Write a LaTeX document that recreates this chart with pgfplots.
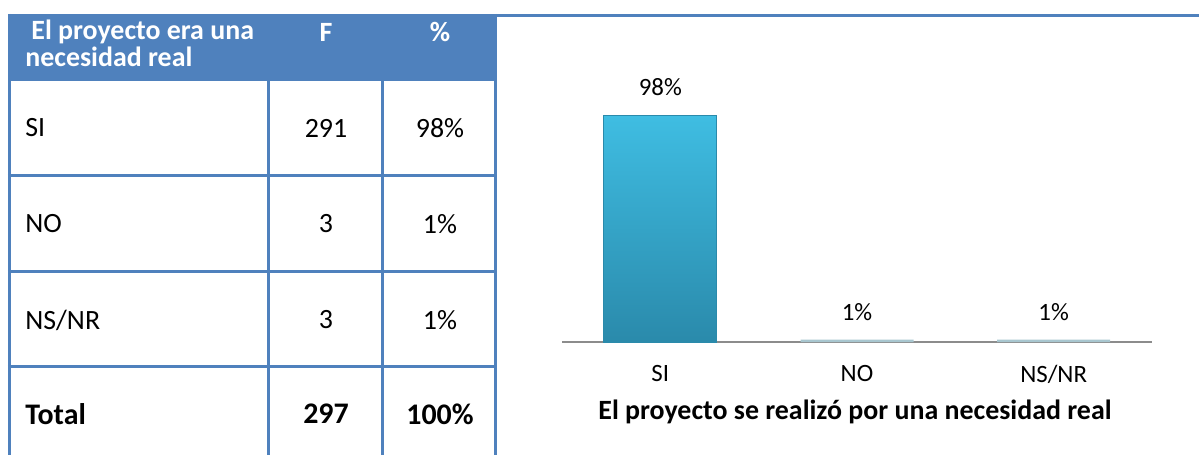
\documentclass[border=0pt]{standalone}
\usepackage{pgfplots}
\pgfplotsset{compat=1.18}
\usepackage{fontspec}
\setmainfont{Carlito}
\definecolor{hdr}{HTML}{4F81BD}
\definecolor{bartop}{HTML}{3FBDE2}
\definecolor{barbot}{HTML}{2A8AAB}
\definecolor{barpale}{HTML}{A8C6CF}
\definecolor{axgray}{HTML}{8C8C8C}
\begin{document}
\begin{tikzpicture}
\useasboundingbox (0,0) rectangle (599.5bp,-227.5bp);
\begin{scope}[x=0.5bp,y=-0.5bp]
  % header
  \fill[hdr] (8,14) rectangle (497,81);
  \fill[hdr] (8,14) rectangle (1199,17.5);
  % grid
  \begin{scope}[draw=hdr,line width=1.5bp]
    \draw (9.5,14) -- (9.5,460);
    \draw (269,80) -- (269,460);
    \draw (383,80) -- (383,460);
    \draw (496,14) -- (496,460);
    \draw (8,176) -- (497,176);
    \draw (8,272) -- (497,272);
    \draw (8,367) -- (497,367);
  \end{scope}
  % header text
  \begin{scope}[every node/.style={text=white,inner sep=0,font=\fontsize{14}{16}\bfseries}]
    \node[anchor=west] at (31,32) {El proyecto era una};
    \node[anchor=west] at (25,57) {necesidad real};
    \node at (326,32) {F};
    \node at (440,32) {\%};
  \end{scope}
  % rows
  \begin{scope}[every node/.style={inner sep=0,font=\fontsize{14}{16}\selectfont}]
    \node[anchor=west] at (25,128) {SI};
    \node at (326,128) {291};
    \node at (440,128) {98\%};
    \node[anchor=west] at (25,224) {NO};
    \node at (326,224) {3};
    \node at (440,224) {1\%};
    \node[anchor=west] at (25,320) {NS/NR};
    \node at (326,320) {3};
    \node at (440,320) {1\%};
  \end{scope}
  \begin{scope}[every node/.style={inner sep=0,font=\fontsize{15}{18}\bfseries}]
    \node[anchor=west] at (25,414) {Total};
    \node at (326,414) {297};
    \node at (440,414) {100\%};
  \end{scope}
  % chart title
  \node[inner sep=0,font=\fontsize{14}{17}\bfseries] at (855,412) {El proyecto se realizó por una necesidad real};
\end{scope}
\begin{axis}[
  at={(281bp,-171bp)}, anchor=south west,
  width=295bp, height=115.8bp, scale only axis,
  xmin=-0.5, xmax=2.5, ymin=0, ymax=100,
  axis x line*=bottom, axis y line=none,
  x axis line style={draw=axgray,line width=0.8bp,-},
  xtick={0,1,2}, xticklabels={SI,NO,NS/NR},
  major tick length=0pt,
  xticklabel style={anchor=north,inner sep=0pt,yshift=-11.5bp,font=\fontsize{12.5}{15}\selectfont},
  ytick=\empty,
  /pgf/number format/assume math mode=true,
  nodes near coords={\pgfmathprintnumber{\pgfplotspointmeta}\%},
  every node near coord/.append style={inner sep=0pt,yshift=9.5bp,font=\fontsize{12.5}{15}\selectfont},
  clip=false,
]
\addplot[ybar, bar width=56.5bp, bar shift=0pt, draw=barbot, line width=0.4bp,
  top color=bartop, bottom color=barbot] coordinates {(0,98)};
\addplot[ybar, bar width=56.5bp, bar shift=0pt, draw=none, fill=barpale] coordinates {(1,1) (2,1)};
\end{axis}
\end{tikzpicture}
\end{document}
